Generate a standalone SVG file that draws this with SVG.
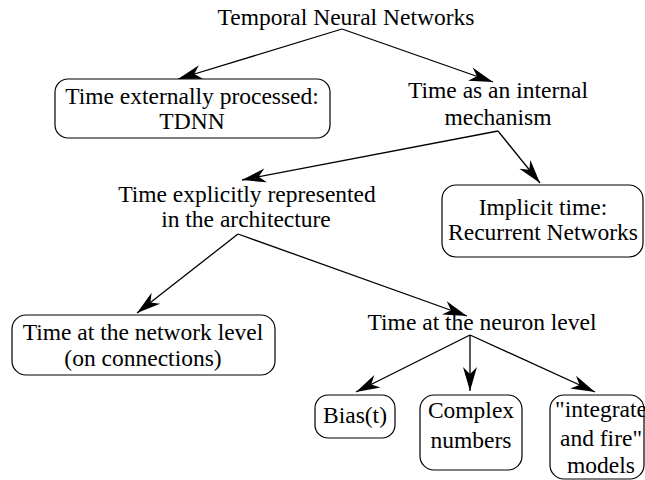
<svg xmlns="http://www.w3.org/2000/svg" width="645" height="480" viewBox="0 0 645 480">
  <style>
    .lbl { font-size: 23.5px; fill: #000; text-anchor: middle; }
    .box { fill: #fff; stroke: #000; stroke-width: 1.2; }
    .edge { fill: none; stroke: #000; stroke-width: 1.3; marker-end: url(#arrow); }
  </style>
  <defs>
    <marker id="arrow" markerUnits="userSpaceOnUse" markerWidth="28" markerHeight="18" viewBox="-26 -9 28 18" refX="0" refY="0" orient="auto">
      <path d="M0,0 L-24,-7 L-17,0 L-24,7 Z" fill="#000"/>
    </marker>
  </defs>

  <rect width="645" height="480" fill="#fff"/>

  <!-- connectors -->
  <g id="connectors">
    <line class="edge" x1="342" y1="29" x2="178" y2="79"/>
    <line class="edge" x1="342" y1="29" x2="493" y2="82"/>
    <line class="edge" x1="498" y1="131" x2="242" y2="180"/>
    <line class="edge" x1="498" y1="131" x2="540" y2="183"/>
    <line class="edge" x1="238" y1="234" x2="137" y2="313"/>
    <line class="edge" x1="238" y1="234" x2="467" y2="316"/>
    <line class="edge" x1="470" y1="335" x2="356" y2="392"/>
    <line class="edge" x1="470" y1="335" x2="470" y2="391"/>
    <line class="edge" x1="470" y1="335" x2="595" y2="392"/>
  </g>

  <!-- nodes -->
  <g font-family="Liberation Serif, Times New Roman, DejaVu Serif, serif">
    <g id="root">
      <text class="lbl" x="346" y="25">Temporal Neural Networks</text>
    </g>

    <g id="external">
      <rect class="box" x="55" y="79" width="275" height="59" rx="13"/>
      <text class="lbl" x="192" y="104">Time externally processed:</text>
      <text class="lbl" x="192" y="129">TDNN</text>
    </g>

    <g id="internal">
      <text class="lbl" x="498" y="98">Time as an internal</text>
      <text class="lbl" x="498" y="125">mechanism</text>
    </g>

    <g id="explicit">
      <text class="lbl" x="247" y="202">Time explicitly represented</text>
      <text class="lbl" x="246" y="227">in the architecture</text>
    </g>

    <g id="implicit">
      <rect class="box" x="442" y="185" width="201" height="72" rx="14"/>
      <text class="lbl" x="543" y="215">Implicit time:</text>
      <text class="lbl" x="543" y="240">Recurrent Networks</text>
    </g>

    <g id="network-level">
      <rect class="box" x="12" y="315" width="263" height="60" rx="14"/>
      <text class="lbl" x="143" y="340">Time at the network level</text>
      <text class="lbl" x="143" y="366">(on connections)</text>
    </g>

    <g id="neuron-level">
      <text class="lbl" x="482" y="330">Time at the neuron level</text>
    </g>

    <g id="bias">
      <rect class="box" x="315" y="395" width="80" height="43" rx="13"/>
      <text class="lbl" x="355" y="423">Bias(t)</text>
    </g>

    <g id="complex">
      <rect class="box" x="420" y="395" width="102" height="75" rx="14"/>
      <text class="lbl" x="471" y="418">Complex</text>
      <text class="lbl" x="471" y="448">numbers</text>
    </g>

    <g id="integrate-fire">
      <rect class="box" x="550" y="395" width="94" height="84" rx="14"/>
      <text class="lbl" x="601" y="417">"integrate</text>
      <text class="lbl" x="601" y="446">and fire"</text>
      <text class="lbl" x="601" y="473">models</text>
    </g>
  </g>
</svg>
